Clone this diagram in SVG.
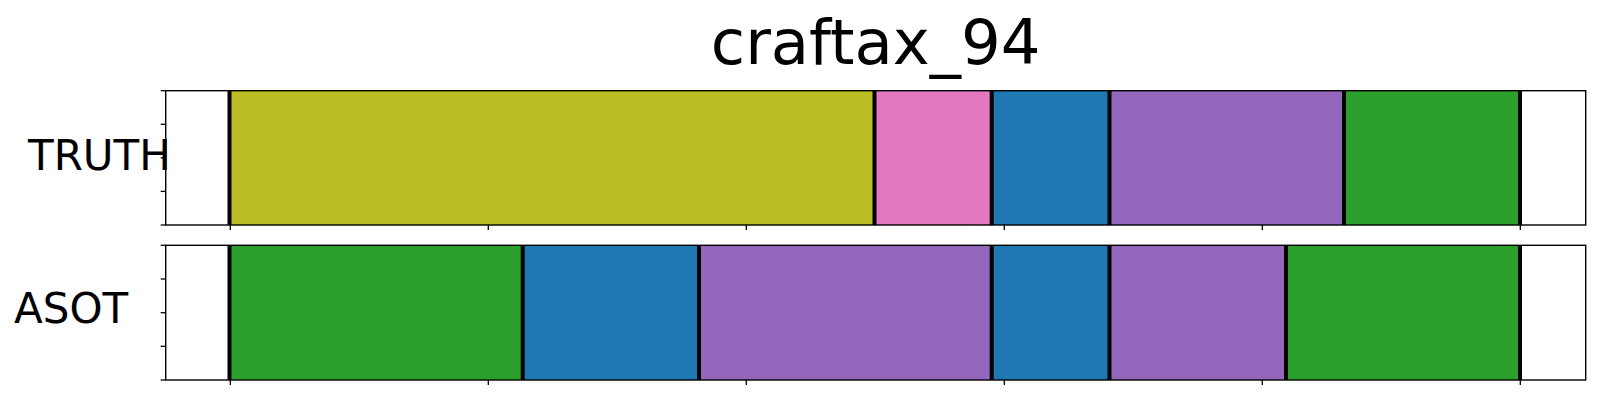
<svg xmlns="http://www.w3.org/2000/svg" width="1600" height="400" viewBox="0 0 1600 400">
<style>
text{font-family:"DejaVu Sans","Liberation Sans",sans-serif;fill:#000}
.frame{fill:none;stroke:#000;stroke-width:1.4}
.tick{stroke:#000;stroke-width:1.3}
.bd{stroke:#000;stroke-width:4}
.olive{fill:#bcbd22}.pink{fill:#e377c2}.blue{fill:#1f77b4}.purple{fill:#9467bd}.green{fill:#2ca02c}
</style>
<rect x="0" y="0" width="1600" height="400" fill="#fff"/>
<text id="title" x="875.7" y="63.5" font-size="62.5" text-anchor="middle">craftax_94</text>

<g id="truth">
  <g id="truth-segments">
    <rect class="olive" x="229.5" y="90.7" width="645" height="134.3"/>
    <rect class="pink" x="874.5" y="90.7" width="117.2" height="134.3"/>
    <rect class="blue" x="991.7" y="90.7" width="117.8" height="134.3"/>
    <rect class="purple" x="1109.5" y="90.7" width="234.5" height="134.3"/>
    <rect class="green" x="1344" y="90.7" width="176" height="134.3"/>
  </g>
  <g id="truth-bounds">
    <line class="bd" x1="229.5" y1="90.7" x2="229.5" y2="225"/>
    <line class="bd" x1="874.5" y1="90.7" x2="874.5" y2="225"/>
    <line class="bd" x1="991.7" y1="90.7" x2="991.7" y2="225"/>
    <line class="bd" x1="1109.5" y1="90.7" x2="1109.5" y2="225"/>
    <line class="bd" x1="1344" y1="90.7" x2="1344" y2="225"/>
    <line class="bd" x1="1520" y1="90.7" x2="1520" y2="225"/>
  </g>
  <rect class="frame" x="165.7" y="90.7" width="1420" height="134.3"/>
  <g id="truth-ticks">
    <line class="tick" x1="160.7" y1="90.7" x2="165.7" y2="90.7"/>
    <line class="tick" x1="160.7" y1="124.3" x2="165.7" y2="124.3"/>
    <line class="tick" x1="160.7" y1="157.9" x2="165.7" y2="157.9"/>
    <line class="tick" x1="160.7" y1="191.4" x2="165.7" y2="191.4"/>
    <line class="tick" x1="160.7" y1="225" x2="165.7" y2="225"/>
    <line class="tick" x1="230.3" y1="225" x2="230.3" y2="230"/>
    <line class="tick" x1="488.3" y1="225" x2="488.3" y2="230"/>
    <line class="tick" x1="746.3" y1="225" x2="746.3" y2="230"/>
    <line class="tick" x1="1004.3" y1="225" x2="1004.3" y2="230"/>
    <line class="tick" x1="1262.3" y1="225" x2="1262.3" y2="230"/>
    <line class="tick" x1="1520.3" y1="225" x2="1520.3" y2="230"/>
  </g>
  <text x="28" y="169.8" font-size="42">TRUTH</text>
</g>

<g id="asot">
  <g id="asot-segments">
    <rect class="green" x="229.5" y="245.3" width="293.2" height="134.7"/>
    <rect class="blue" x="522.7" y="245.3" width="176.3" height="134.7"/>
    <rect class="purple" x="699" y="245.3" width="292.7" height="134.7"/>
    <rect class="blue" x="991.7" y="245.3" width="117.8" height="134.7"/>
    <rect class="purple" x="1109.5" y="245.3" width="176.5" height="134.7"/>
    <rect class="green" x="1286" y="245.3" width="234" height="134.7"/>
  </g>
  <g id="asot-bounds">
    <line class="bd" x1="229.5" y1="245.3" x2="229.5" y2="380"/>
    <line class="bd" x1="522.7" y1="245.3" x2="522.7" y2="380"/>
    <line class="bd" x1="699" y1="245.3" x2="699" y2="380"/>
    <line class="bd" x1="991.7" y1="245.3" x2="991.7" y2="380"/>
    <line class="bd" x1="1109.5" y1="245.3" x2="1109.5" y2="380"/>
    <line class="bd" x1="1286" y1="245.3" x2="1286" y2="380"/>
    <line class="bd" x1="1520" y1="245.3" x2="1520" y2="380"/>
  </g>
  <rect class="frame" x="165.7" y="245.3" width="1420" height="134.7"/>
  <g id="asot-ticks">
    <line class="tick" x1="160.7" y1="245.3" x2="165.7" y2="245.3"/>
    <line class="tick" x1="160.7" y1="279" x2="165.7" y2="279"/>
    <line class="tick" x1="160.7" y1="312.7" x2="165.7" y2="312.7"/>
    <line class="tick" x1="160.7" y1="346.3" x2="165.7" y2="346.3"/>
    <line class="tick" x1="160.7" y1="380" x2="165.7" y2="380"/>
    <line class="tick" x1="230.3" y1="380" x2="230.3" y2="385"/>
    <line class="tick" x1="488.3" y1="380" x2="488.3" y2="385"/>
    <line class="tick" x1="746.3" y1="380" x2="746.3" y2="385"/>
    <line class="tick" x1="1004.3" y1="380" x2="1004.3" y2="385"/>
    <line class="tick" x1="1262.3" y1="380" x2="1262.3" y2="385"/>
    <line class="tick" x1="1520.3" y1="380" x2="1520.3" y2="385"/>
  </g>
  <text x="14" y="322.8" font-size="42">ASOT</text>
</g>
</svg>
